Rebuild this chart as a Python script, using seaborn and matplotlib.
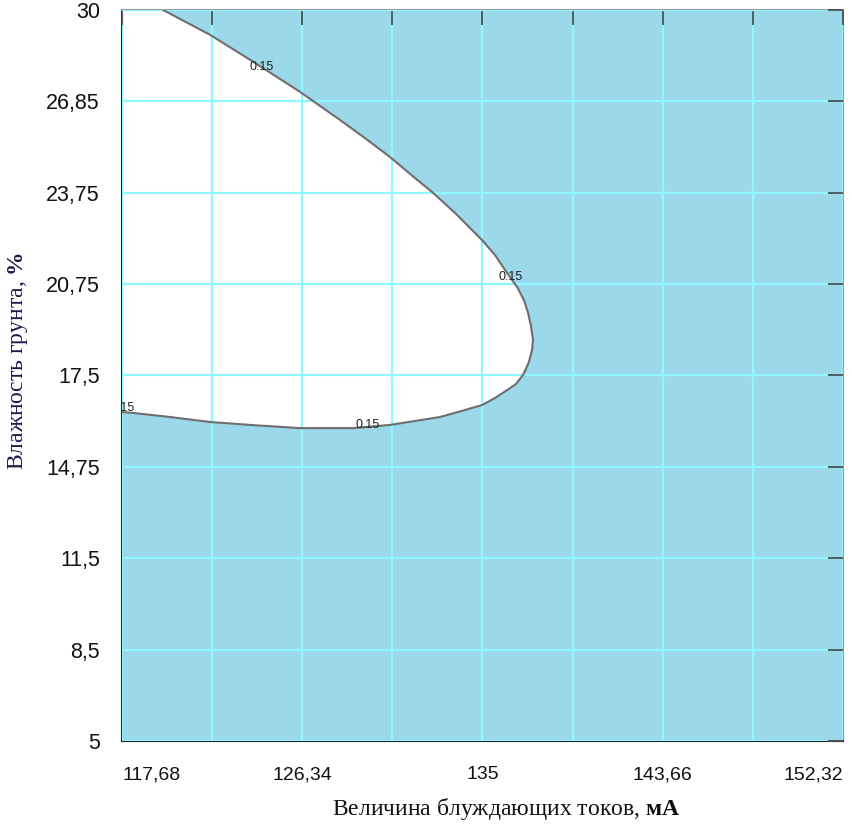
import pandas as pd
import seaborn as sns
import matplotlib.pyplot as plt

# 0.15 iso-line of the response surface
current_ma = [119.65, 121.91, 124.07, 126.23, 128.15, 129.35, 130.56, 131.76,
              132.57, 133.68, 134.98, 135.60, 136.08, 136.66, 136.99, 137.19,
              137.33, 137.43, 137.38, 137.23, 136.95, 136.61, 136.18, 135.60,
              134.98, 134.01, 132.96, 130.56, 128.78, 126.23, 123.83, 121.91,
              119.99, 118.21, 117.68]
moisture = [30.00, 29.15, 28.19, 27.20, 26.24, 25.62, 24.97, 24.25,
            23.78, 23.06, 22.13, 21.62, 21.11, 20.53, 20.08, 19.64,
            19.19, 18.71, 18.37, 17.96, 17.52, 17.21, 17.00, 16.73,
            16.49, 16.29, 16.08, 15.81, 15.70, 15.70, 15.81, 15.91,
            16.08, 16.22, 16.25]
level_text = "0.15"
label_x = [124.41, 136.37, 129.50, 117.70]
label_y = [28.05, 20.87, 15.81, 16.40]

x_ticks = [117.68, 122.01, 126.34, 130.67, 135.0, 139.33, 143.66, 147.99, 152.32]
x_labels = ["117,68", "", "126,34", "", "135", "", "143,66", "", "152,32"]
y_ticks = [5, 8.125, 11.25, 14.375, 17.5, 20.625, 23.75, 26.875, 30]
y_labels = ["5", "8,5", "11,5", "14,75", "17,5", "20,75", "23,75", "26,85", "30"]

df = pd.DataFrame({"current": current_ma, "moisture": moisture})

sns.set_theme(style="white")
plt.rcParams["font.family"] = ["Liberation Sans", "DejaVu Sans"]
plt.rcParams["mathtext.fontset"] = "custom"
plt.rcParams["mathtext.rm"] = "Liberation Serif"
plt.rcParams["mathtext.bf"] = "Liberation Serif:bold"

fig = plt.figure(figsize=(8.52, 8.30), dpi=100)
ax = fig.add_axes([0.1432, 0.1072, 0.8462, 0.8808])
ax.set_facecolor("#9bd9ea")

# white region inside the iso-line (closed along the top-left corner)
ax.fill(current_ma + [117.68, 117.68], moisture + [30, 30],
        color="white", zorder=1, lw=0)

ax.set_xticks(x_ticks)
ax.set_xticklabels(x_labels)
ax.set_yticks(y_ticks)
ax.set_yticklabels(y_labels)
ax.grid(True, color="#8ef7ff", lw=1.6, zorder=2)
ax.set_axisbelow(False)

sns.lineplot(data=df, x="current", y="moisture", sort=False, estimator=None,
             color="#6e6e6e", lw=1.5, ax=ax, zorder=3)

for lx, ly in zip(label_x, label_y):
    ax.text(lx, ly, level_text, fontsize=9, ha="center", va="center",
            color="#222222", zorder=4, clip_on=True)

ax.set_xlim(117.68, 152.32)
ax.set_ylim(5, 30)

ax.tick_params(axis="both", which="major", direction="in", length=11, width=1.2,
               color="#444444", top=True, right=True, labelcolor="#111111")
ax.tick_params(axis="x", pad=18, labelsize=14)
ax.tick_params(axis="y", pad=16, labelsize=15.5)
for lab in ax.get_xticklabels():
    if lab.get_text() == "117,68":
        lab.set_horizontalalignment("left")
    elif lab.get_text() == "152,32":
        lab.set_horizontalalignment("right")

for side in ["left", "bottom"]:
    ax.spines[side].set_color("#222222")
    ax.spines[side].set_linewidth(1.5)
for side in ["top", "right"]:
    ax.spines[side].set_color("#9a9a9a")
    ax.spines[side].set_linewidth(1.5)

ax.set_xlabel("Величина блуждающих токов, $\\mathbf{мА}$", fontsize=17,
              family="Liberation Serif", color="#111111")
ax.set_ylabel("Влажность грунта, $\\mathbf{\\%}$", fontsize=17,
              family="Liberation Serif", color="#1a1a4e")
ax.xaxis.set_label_coords(0.533, -0.075)
ax.yaxis.set_label_coords(-0.128, 0.52)

fig.savefig("out.png", dpi=100)
